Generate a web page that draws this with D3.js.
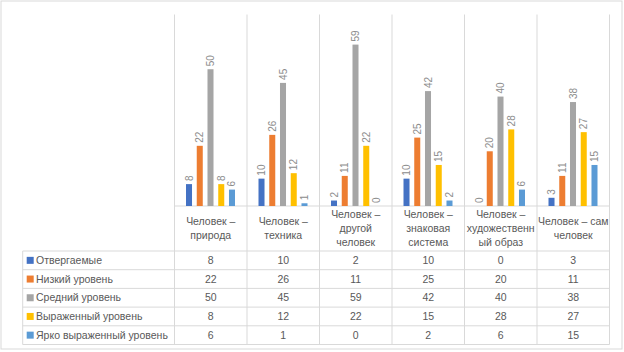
<!DOCTYPE html>
<html>
<head>
<meta charset="utf-8">
<script src="https://cdn.jsdelivr.net/npm/d3@7"></script>
<style>
  body { margin: 0; background: #fff; }
  text { font-family: "Liberation Sans", Arial, sans-serif; }
</style>
</head>
<body>
<div id="chart"></div>
<script>
// data
let categories = ['Человек – природа', 'Человек – техника', 'Человек – другой человек',
                  'Человек – знаковая система', 'Человек – художественный образ', 'Человек – сам человек']
let catLines = [['Человек –', 'природа'], ['Человек –', 'техника'], ['Человек –', 'другой', 'человек'],
                ['Человек –', 'знаковая', 'система'], ['Человек –', 'художественн', 'ый образ'],
                ['Человек – сам', 'человек']]
let seriesNames = ['Отвергаемые', 'Низкий уровень', 'Средний уровень', 'Выраженный уровень', 'Ярко выраженный уровень']
let otvergaemye = [8, 10, 2, 10, 0, 3]
let nizkiy = [22, 26, 11, 25, 20, 11]
let sredniy = [50, 45, 59, 42, 40, 38]
let vyrazhenny = [8, 12, 22, 15, 28, 27]
let yarko = [6, 1, 0, 2, 6, 15]
let colors = ['#4472C4', '#ED7D31', '#A5A5A5', '#FFC000', '#5B9BD5']

let series = [otvergaemye, nizkiy, sredniy, vyrazhenny, yarko]

let width = 624, height = 352
let plotLeft = 174.5, plotRight = 609.5, plotTop = 14.5, base = 206
let tableLeft = 22.7, headBottom = 251, rowH = 18.7
let grid = '#d9d9d9'

let svg = d3.select('#chart').append('svg')
  .attr('width', width).attr('height', height)

svg.append('rect')
  .attr('x', 1).attr('y', 1).attr('width', 621).attr('height', 348)
  .attr('fill', '#fff').attr('stroke', grid)

let x = d3.scaleBand().domain(categories).range([plotLeft, plotRight])
let x1 = d3.scaleBand().domain(d3.range(series.length)).range([11.5, 60.5]).paddingInner(0.44)
let y = d3.scaleLinear().domain([0, 70]).range([base, plotTop])

let tableBottom = headBottom + rowH * series.length

// vertical lines (plot + table columns)
let xs = categories.map(c => x(c)).concat([plotRight])
svg.selectAll('.vline').data(xs).enter().append('line')
  .attr('x1', d => d).attr('x2', d => d)
  .attr('y1', plotTop).attr('y2', tableBottom)
  .attr('stroke', grid)
svg.append('line')
  .attr('x1', tableLeft).attr('x2', tableLeft)
  .attr('y1', headBottom).attr('y2', tableBottom).attr('stroke', grid)

// baseline
svg.append('line')
  .attr('x1', plotLeft).attr('x2', plotRight).attr('y1', base).attr('y2', base).attr('stroke', grid)

// table rows
svg.selectAll('.hline').data(d3.range(series.length + 1)).enter().append('line')
  .attr('x1', tableLeft).attr('x2', plotRight)
  .attr('y1', i => headBottom + i * rowH).attr('y2', i => headBottom + i * rowH)
  .attr('stroke', grid)

// bars
series.forEach(function (vals, s) {
  let g = svg.append('g')
  g.selectAll('rect').data(vals).enter().append('rect')
    .attr('x', (d, i) => x(categories[i]) + x1(s))
    .attr('y', d => y(d))
    .attr('width', x1.bandwidth())
    .attr('height', d => base - y(d))
    .attr('fill', colors[s])
  g.selectAll('text').data(vals).enter().append('text')
    .attr('transform', (d, i) => 'translate(' + (x(categories[i]) + x1(s) + x1.bandwidth() / 2) + ',' + (y(d) - 3) + ') rotate(-90)')
    .attr('dy', '0.35em')
    .attr('font-size', 10)
    .attr('fill', '#8c8c8c')
    .text(d => d)
})

// category labels
catLines.forEach(function (lines, i) {
  let cx = x(categories[i]) + x.bandwidth() / 2
  let cy = (base + headBottom) / 2
  let lh = 13.7
  lines.forEach(function (l, j) {
    svg.append('text')
      .attr('x', cx).attr('y', cy + (j - (lines.length - 1) / 2) * lh)
      .attr('dy', '0.35em')
      .attr('text-anchor', 'middle')
      .attr('font-size', 10.5)
      .attr('fill', '#595959')
      .text(l)
  })
})

// table body
series.forEach(function (vals, s) {
  let cy = headBottom + s * rowH + rowH / 2
  svg.append('rect')
    .attr('x', 26.7).attr('y', cy - 3.5).attr('width', 7).attr('height', 7)
    .attr('fill', colors[s])
  svg.append('text')
    .attr('x', 36).attr('y', cy).attr('dy', '0.35em')
    .attr('font-size', 10.5).attr('fill', '#595959')
    .text(seriesNames[s])
  vals.forEach(function (v, i) {
    svg.append('text')
      .attr('x', x(categories[i]) + x.bandwidth() / 2).attr('y', cy).attr('dy', '0.35em')
      .attr('text-anchor', 'middle')
      .attr('font-size', 10.5).attr('fill', '#595959')
      .text(v)
  })
})
</script>
</body>
</html>
